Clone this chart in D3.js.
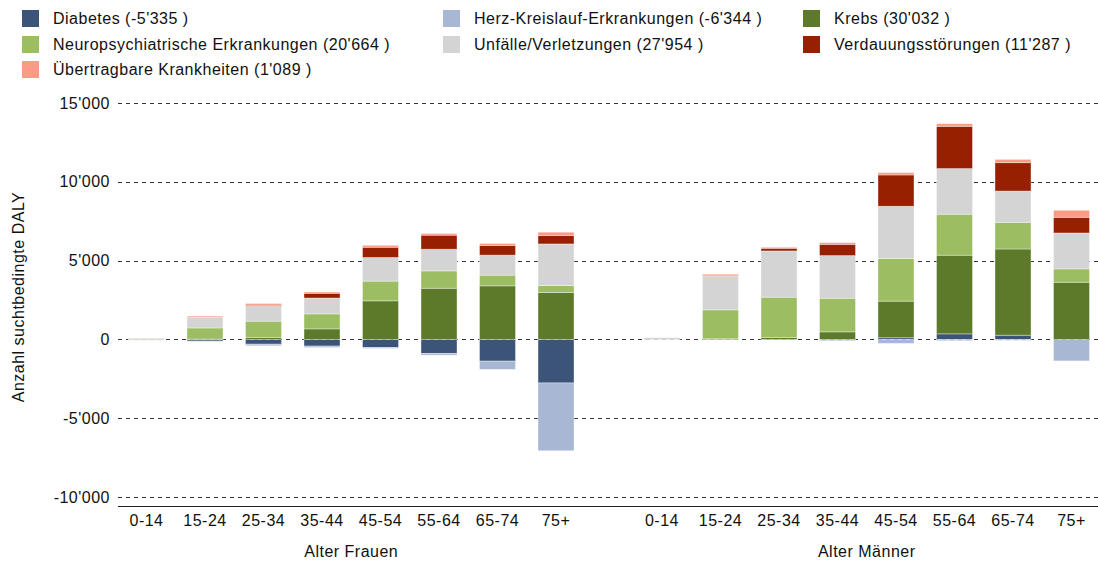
<!DOCTYPE html>
<html>
<head>
<meta charset="utf-8">
<script src="https://cdn.jsdelivr.net/npm/d3@7"></script>
<style>
  html, body { margin: 0; padding: 0; background: #fff; }
  svg { display: block; font-family: "Liberation Sans", Arial, Helvetica, sans-serif; letter-spacing: 0.5px; }
</style>
</head>
<body>
<svg id="chart" width="1098" height="564"></svg>
<script>
// Age groups, shown once for women and once for men
const ages = ["0-14", "15-24", "25-34", "35-44", "45-54", "55-64", "65-74", "75+"];
const sexes = ["Frauen", "Männer"];
const groupTitles = ["Alter Frauen", "Alter Männer"];

// Disease groups (stack order) and the totals shown in the legend
const seriesNames = ["Diabetes", "Herz-Kreislauf-Erkrankungen", "Krebs",
  "Neuropsychiatrische Erkrankungen", "Unfälle/Verletzungen",
  "Verdauungsstörungen", "Übertragbare Krankheiten"];
const seriesTotals = [-5335, -6344, 30032, 20664, 27954, 11287, 1089];
const seriesColors = ["#3b5478", "#a8b8d4", "#5c7a2a", "#9cbd61", "#d4d4d4", "#962000", "#fa9c85"];

// Alcohol-attributable DALY per age group: 8 values for women, then 8 for men
const diabetes      = [-20, -100, -300, -420, -507, -887, -1375, -2760,   -10, 0, 0, 0, 110, 355, 270, 0];
const herzKreislauf = [-20, -30, -100, -90, -60, -110, -525, -4300,       0, -20, -30, -80, -250, -80, -60, -1360];
const krebs         = [0, 30, 130, 670, 2450, 3250, 3400, 2980,           0, 40, 125, 480, 2320, 4990, 5470, 3630];
const neuro         = [30, 700, 1030, 950, 1250, 1100, 680, 440,          0, 1835, 2555, 2135, 2705, 2600, 1690, 845];
const unfaelle      = [60, 660, 950, 1010, 1500, 1375, 1270, 2640,        110, 2155, 2935, 2705, 3315, 2895, 1985, 2280];
const verdauung     = [0, 10, 60, 300, 650, 890, 615, 535,                0, 0, 170, 715, 1985, 2680, 1800, 995];
const uebertragbar  = [0, 80, 110, 80, 125, 105, 125, 210,                0, 105, 65, 110, 150, 170, 210, 445];

const yTicks = [-10000, -5000, 0, 5000, 10000, 15000];

const seriesValues = [diabetes, herzKreislauf, krebs, neuro, unfaelle, verdauung, uebertragbar];

// Swiss number format: 15'000
const locale = d3.formatLocale({ decimal: ".", thousands: "'", grouping: [3], currency: ["", ""], minus: "-" });
const fmt = locale.format(",d");

// Rows for d3.stack
const rows = [];
sexes.forEach((sex, si) => {
  ages.forEach((age, ai) => {
    const row = { sex, age };
    seriesNames.forEach((name, k) => { row[name] = seriesValues[k][si * ages.length + ai]; });
    rows.push(row);
  });
});

const stacked = d3.stack().keys(seriesNames).offset(d3.stackOffsetDiverging)(rows);

const svg = d3.select("#chart");
const plotLeft = 118, plotRight = 1098;
const fontSize = 16;

const y = d3.scaleLinear().domain([-10000, 15000]).range([497.1, 103]);
const xGroup = d3.scaleBand().domain(sexes).range([117.25, 1100.75]).paddingInner(0.0921).paddingOuter(0);
const xAge = d3.scaleBand().domain(ages).range([0, xGroup.bandwidth()]).paddingInner(0.385).paddingOuter(0.1925);

// Dashed gridlines
svg.append("g").selectAll("line").data(yTicks).join("line")
  .attr("x1", plotLeft).attr("x2", plotRight)
  .attr("y1", d => Math.round(y(d)) + 0.5).attr("y2", d => Math.round(y(d)) + 0.5)
  .attr("stroke", "#333").attr("stroke-width", 1).attr("stroke-dasharray", "4,4");

// Y axis labels
const yAxis = d3.axisLeft(y).tickValues(yTicks).tickFormat(fmt).tickSize(0).tickPadding(8);
const gy = svg.append("g").attr("transform", `translate(${plotLeft},0)`).call(yAxis);
gy.select(".domain").remove();
gy.selectAll("text").attr("font-size", fontSize).attr("fill", "#111").attr("font-family", null);

// Bars
svg.append("g").selectAll("g").data(stacked).join("g")
  .attr("fill", (d, i) => seriesColors[i])
  .selectAll("rect").data(d => d).join("rect")
  .attr("x", d => xGroup(d.data.sex) + xAge(d.data.age))
  .attr("width", xAge.bandwidth())
  .attr("y", d => y(Math.max(d[0], d[1])))
  .attr("height", d => Math.abs(y(d[0]) - y(d[1])))
  .attr("stroke", "#fff").attr("stroke-opacity", 0.45).attr("stroke-width", 0.8);

// Bottom axis line
svg.append("line").attr("x1", plotLeft).attr("x2", plotRight)
  .attr("y1", 506.5).attr("y2", 506.5).attr("stroke", "#222").attr("stroke-width", 1);

// Age labels per group
sexes.forEach((sex, si) => {
  const g = svg.append("g").attr("transform", `translate(${xGroup(sex)},0)`);
  const ax = d3.axisBottom(xAge).tickSize(0).tickPadding(0);
  const ga = g.append("g").attr("transform", "translate(0,515)").call(ax);
  ga.select(".domain").remove();
  ga.selectAll("text").attr("font-size", fontSize).attr("fill", "#111").attr("font-family", null).attr("dy", "0.71em");
  svg.append("text")
    .attr("x", xGroup(sex) + xGroup.bandwidth() / 2).attr("y", 557)
    .attr("text-anchor", "middle").attr("font-size", fontSize).attr("fill", "#111")
    .text(groupTitles[si]);
});

// Y axis title
svg.append("text")
  .attr("transform", "translate(24,297) rotate(-90)")
  .attr("text-anchor", "middle").attr("font-size", fontSize).attr("fill", "#111")
  .text("Anzahl suchtbedingte DALY");

// Legend in three columns
const legendCols = [22, 443, 803];
const legendRows = [18, 44, 69];
const legend = svg.append("g").selectAll("g").data(seriesNames).join("g")
  .attr("transform", (d, i) => `translate(${legendCols[i % 3]},${legendRows[Math.floor(i / 3)]})`);
legend.append("rect").attr("x", 0).attr("y", -8).attr("width", 17).attr("height", 17)
  .attr("fill", (d, i) => seriesColors[i]);
legend.append("text").attr("x", 31).attr("y", 0).attr("dy", "0.35em")
  .attr("font-size", fontSize).attr("fill", "#111")
  .text((d, i) => `${d} (${fmt(seriesTotals[i])} )`);
</script>
</body>
</html>
